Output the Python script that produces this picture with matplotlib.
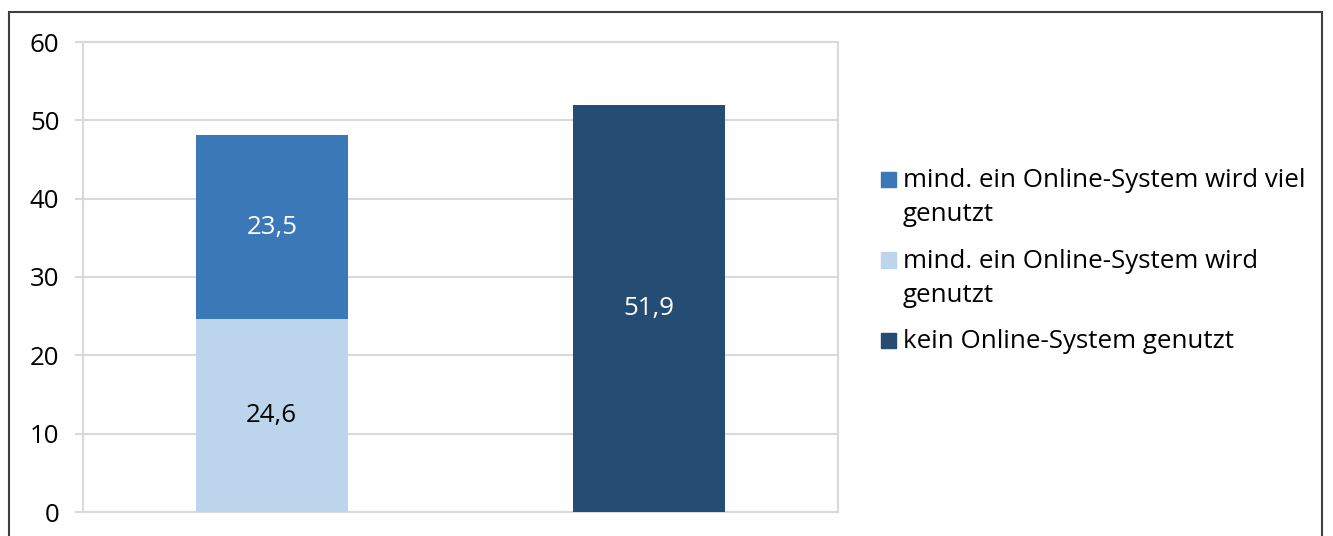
import matplotlib
matplotlib.use("Agg")
from matplotlib import pyplot as plt
from matplotlib.patches import Rectangle

categories = ["A", "B"]
viel_genutzt = [23.5, 0]
genutzt = [24.6, 0]
kein_genutzt = [0, 51.9]
series_labels = ["mind. ein Online-System wird viel\ngenutzt",
                 "mind. ein Online-System wird\ngenutzt",
                 "kein Online-System genutzt"]
colors = ["#3B78B8", "#BDD5EC", "#254D73"]
yticks = [0, 10, 20, 30, 40, 50, 60]

plt.rcParams['font.family'] = ['Open Sans', 'DejaVu Sans']
FS = 18.6

fig = plt.figure(figsize=(13.33, 5.36), dpi=100)
ax = fig.add_axes([83/1333, 1 - 512/536, (838 - 83)/1333, (512 - 42)/536])

x = list(range(len(categories)))
w = 0.403
ax.bar(x, genutzt, w, color=colors[1], zorder=3)
ax.bar(x, viel_genutzt, w, bottom=genutzt, color=colors[0], zorder=3)
ax.bar(x, kein_genutzt, w, color=colors[2], zorder=3)

def fmt(v):
    return f"{v:.1f}".replace(".", ",")

for i in x:
    if genutzt[i] > 0:
        ax.text(i, genutzt[i] / 2, fmt(genutzt[i]), ha="center", va="center",
                fontsize=FS, color="black", zorder=4)
    if viel_genutzt[i] > 0:
        ax.text(i, genutzt[i] + viel_genutzt[i] / 2, fmt(viel_genutzt[i]),
                ha="center", va="center", fontsize=FS, color="white", zorder=4)
    if kein_genutzt[i] > 0:
        ax.text(i, kein_genutzt[i] / 2, fmt(kein_genutzt[i]), ha="center",
                va="center", fontsize=FS, color="white", zorder=4)

ax.set_xlim(-0.5, 1.5)
ax.set_ylim(0, 60)
ax.set_yticks(yticks)
ax.set_xticks([])
ax.yaxis.grid(True, color="#D9D9D9", linewidth=1.5, zorder=0)
for s in ax.spines.values():
    s.set_color("#D9D9D9")
    s.set_linewidth(1.5)
ax.tick_params(axis="y", length=6, width=1.5, color="#D9D9D9", pad=11,
               labelsize=FS, labelcolor="black")

# legend drawn by hand so the marker sits on the first line
lx, ly = 881, 187
for k, (lab, c) in enumerate(zip(series_labels, colors)):
    base = ly + k * 80.5
    fig.patches.append(Rectangle((lx / 1333, 1 - base / 536), 15 / 1333, 15 / 536,
                                 transform=fig.transFigure, color=c))
    for j, line in enumerate(lab.split("\n")):
        fig.text(903 / 1333, 1 - (base + j * 34) / 536, line, ha="left",
                 va="baseline", fontsize=FS)

# outer frame
fig.patches.append(Rectangle((9 / 1333, -0.1), (1322 - 9) / 1333, 1.1 - 12 / 536,
                             transform=fig.transFigure, fill=False,
                             edgecolor="#404040", linewidth=1.5))

fig.savefig("out.png", dpi=100)
